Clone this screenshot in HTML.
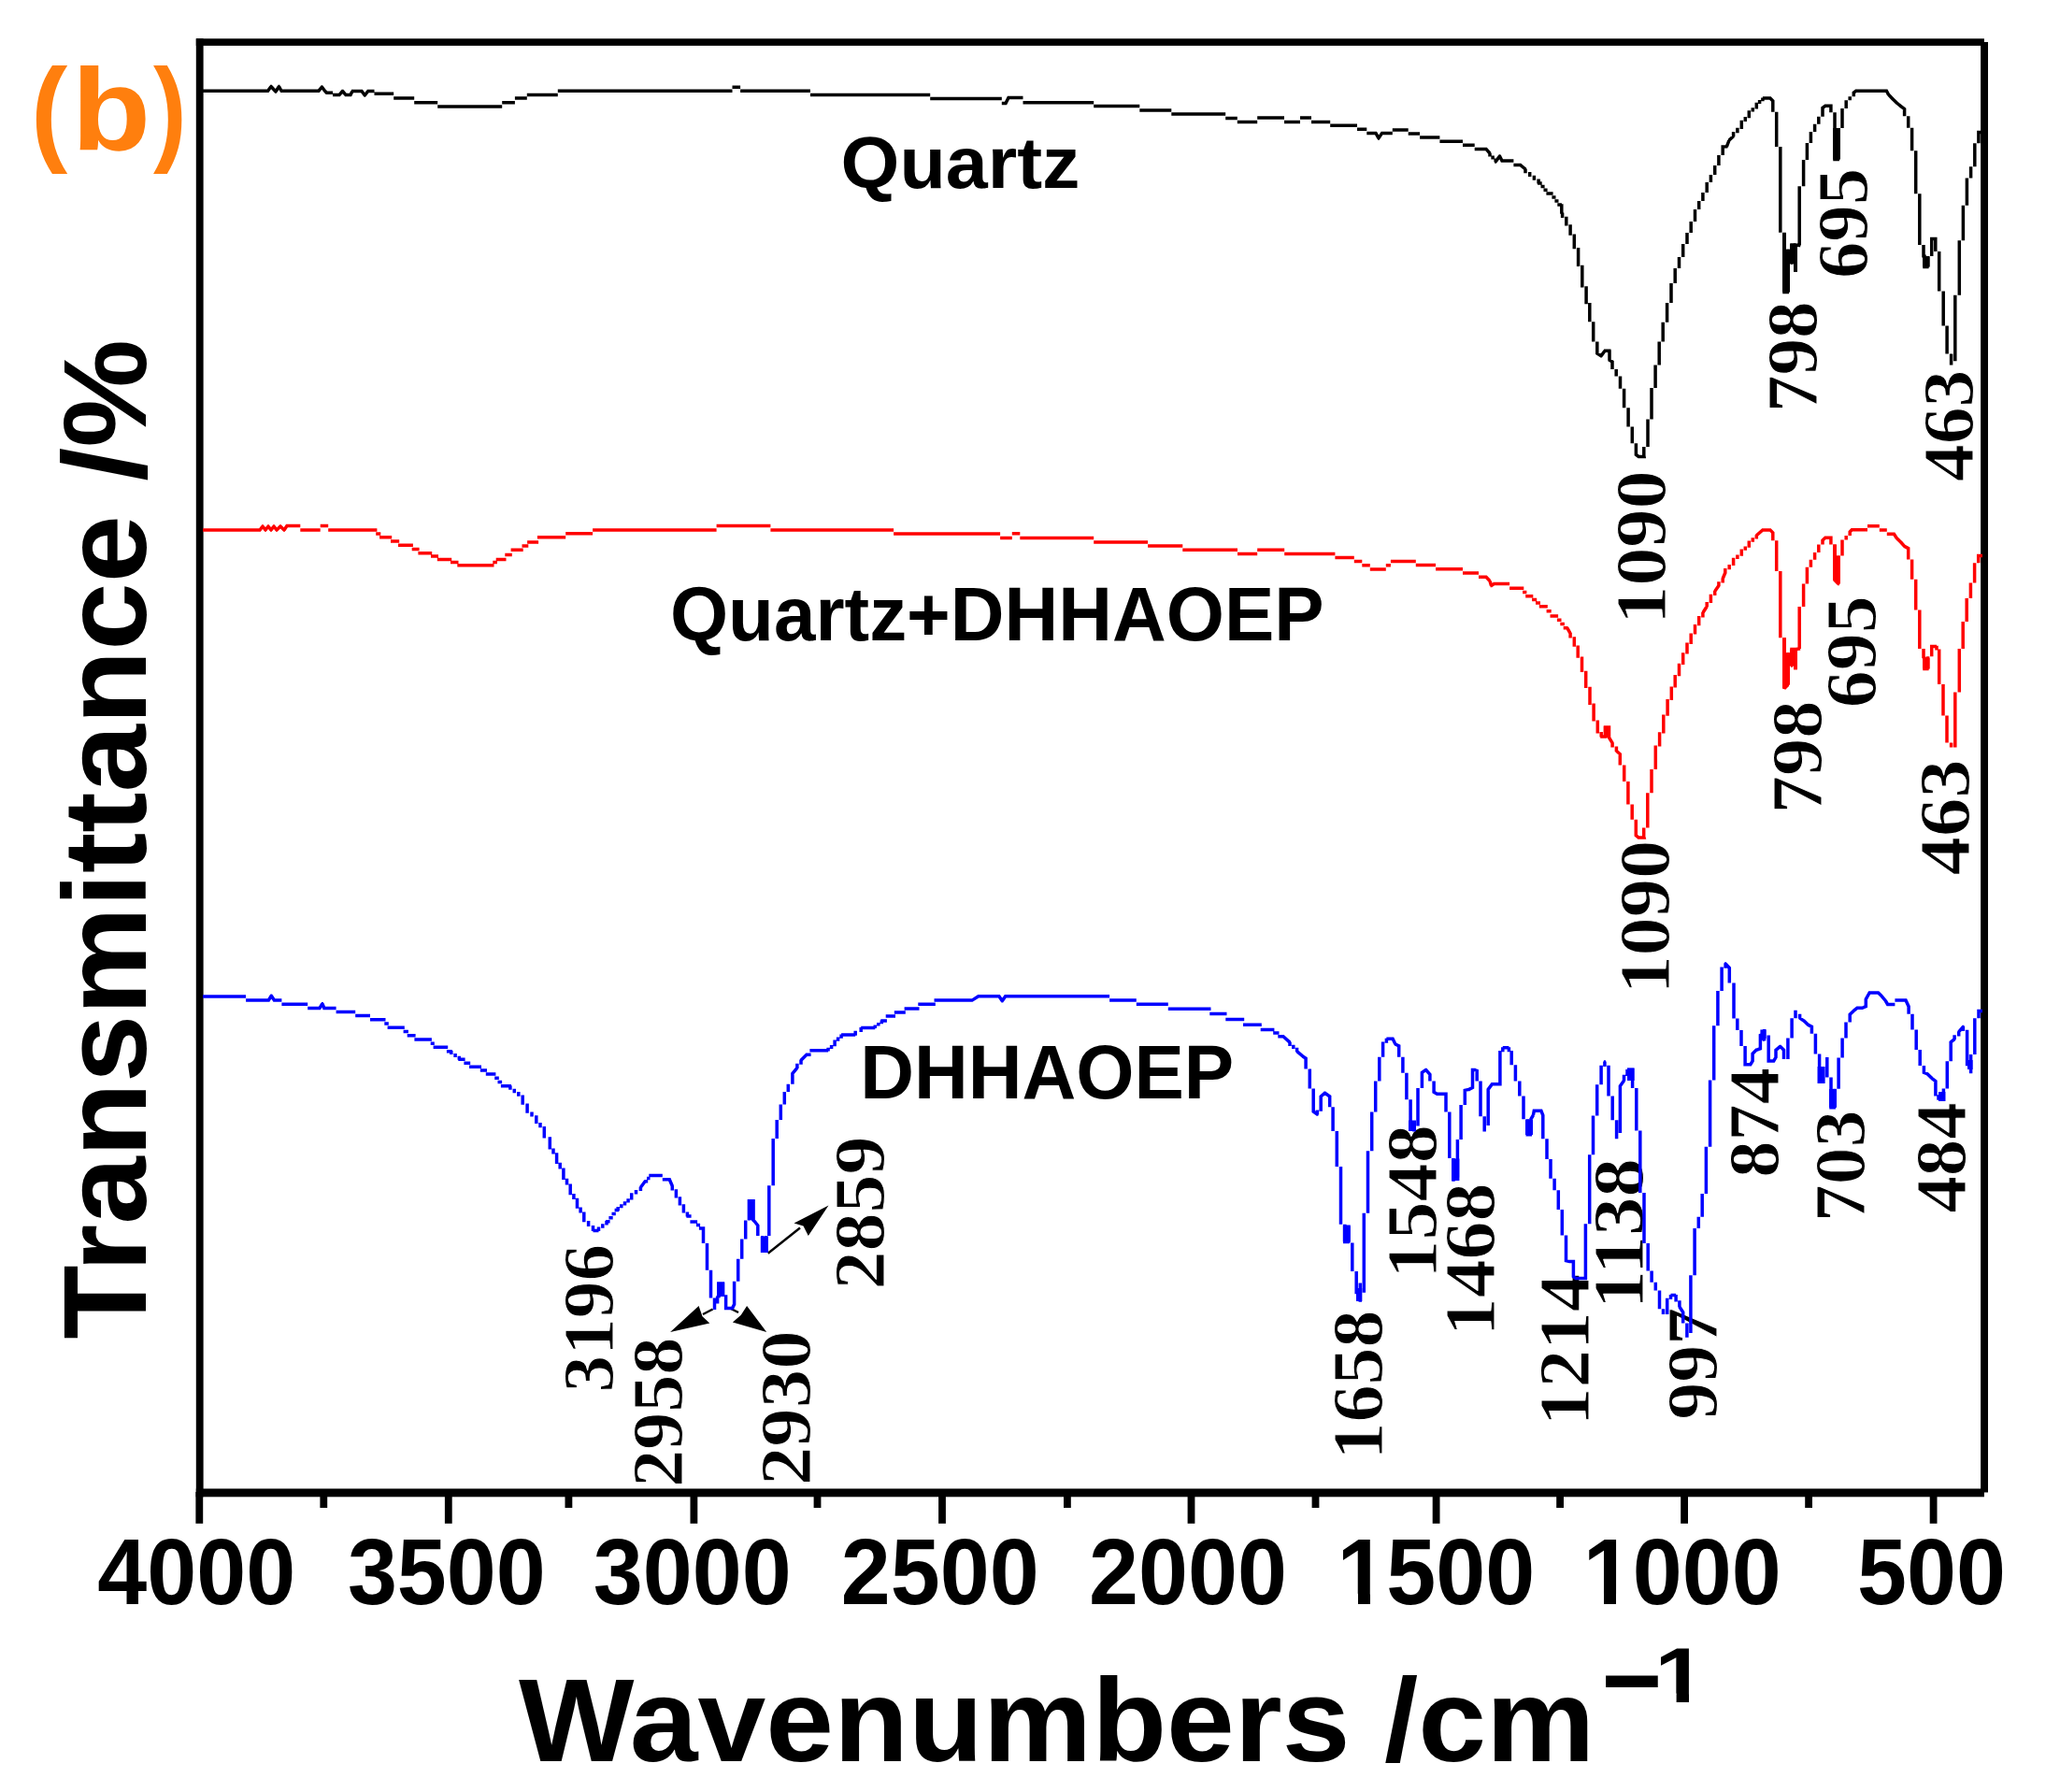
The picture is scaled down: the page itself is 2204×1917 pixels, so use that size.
<!DOCTYPE html><html><head><meta charset="utf-8"><title>FTIR spectra</title>
<style>html,body{margin:0;padding:0;background:#fff}svg{display:block}text{white-space:pre}</style></head><body>
<svg width="2204" height="1917" viewBox="0 0 2204 1917">
<rect width="2204" height="1917" fill="#fff"/>
<g fill="#000">
<rect x="209.8" y="41.3" width="7.8" height="1560"/>
<rect x="209.8" y="41.3" width="1913.1" height="7.6"/>
<rect x="2119.1" y="45" width="7.9" height="1551.5"/>
<rect x="209.8" y="1592.5" width="1913.1" height="8.8"/>
<rect x="209.4" y="1596" width="7.8" height="33.8"/>
<rect x="475.9" y="1596" width="7.8" height="33.8"/>
<rect x="738.5" y="1596" width="7.8" height="33.8"/>
<rect x="1004.1" y="1596" width="7.8" height="33.8"/>
<rect x="1270.6" y="1596" width="7.8" height="33.8"/>
<rect x="1532.7" y="1596" width="7.8" height="33.8"/>
<rect x="1798.2" y="1596" width="7.8" height="33.8"/>
<rect x="2064.7" y="1596" width="7.8" height="33.8"/>
<rect x="342.4" y="1596" width="7.8" height="17"/>
<rect x="604.5" y="1596" width="7.8" height="17"/>
<rect x="870.6" y="1596" width="7.8" height="17"/>
<rect x="1138.0" y="1596" width="7.8" height="17"/>
<rect x="1403.6" y="1596" width="7.8" height="17"/>
<rect x="1665.2" y="1596" width="7.8" height="17"/>
<rect x="1931.2" y="1596" width="7.8" height="17"/>
</g>
<g stroke="#000" stroke-width="2.4" fill="#000">
<line x1="821.7" y1="1340.8" x2="856" y2="1313.5"/>
<polygon stroke="none" points="886.5,1289.5 849.5,1308.5 859.5,1311.5 864.8,1322"/>
<line x1="762.6" y1="1400.5" x2="752" y2="1406"/>
<polygon stroke="none" points="717.1,1425 747.6,1396.9 751.5,1408.2 759.3,1415.6"/>
<line x1="780" y1="1399" x2="790" y2="1404"/>
<polygon stroke="none" points="820.2,1425 783.9,1414.4 792.8,1406.8 799.1,1396.9"/>
</g>
<g font-family='"Liberation Serif", "Times New Roman", serif' font-weight="bold" fill="#000" stroke="#fff" stroke-width="1.0" stroke-linejoin="round">
<text transform="translate(1781.95 668.10) rotate(-90) scale(1.0852 1.0200)" font-size="76">1090</text>
<text transform="translate(1944.40 441.11) rotate(-90) scale(1.0425 1.0200)" font-size="76">798</text>
<text transform="translate(1998.35 298.11) rotate(-90) scale(1.0380 1.0200)" font-size="76">695</text>
<text transform="translate(2111.00 515.09) rotate(-90) scale(1.0459 1.0200)" font-size="76">463</text>
<text transform="translate(1786.40 1063.59) rotate(-90) scale(1.0838 1.0200)" font-size="76">1090</text>
<text transform="translate(1948.60 870.19) rotate(-90) scale(1.0585 1.0200)" font-size="76">798</text>
<text transform="translate(2006.75 757.15) rotate(-90) scale(1.0509 1.0200)" font-size="76">695</text>
<text transform="translate(2107.25 936.54) rotate(-90) scale(1.0900 1.0200)" font-size="76">463</text>
<text transform="translate(655.75 1489.43) rotate(-90) scale(1.0425 1.0200)" font-size="76">3196</text>
<text transform="translate(729.55 1591.02) rotate(-90) scale(1.0559 1.0200)" font-size="76">2958</text>
<text transform="translate(866.95 1589.09) rotate(-90) scale(1.0900 1.0200)" font-size="76">2930</text>
<text transform="translate(945.70 1379.62) rotate(-90) scale(1.0807 1.0200)" font-size="76">2859</text>
<text transform="translate(1479.05 1561.57) rotate(-90) scale(1.0528 1.0200)" font-size="76">1658</text>
<text transform="translate(1536.85 1367.68) rotate(-90) scale(1.0824 1.0200)" font-size="76">1548</text>
<text transform="translate(1599.45 1429.13) rotate(-90) scale(1.0754 1.0200)" font-size="76">1468</text>
<text transform="translate(1699.71 1525.19) rotate(-90) scale(1.0699 1.0200)" font-size="76">1214</text>
<text transform="translate(1757.90 1400.14) rotate(-90) scale(1.0900 1.0200)" font-size="76">1138</text>
<text transform="translate(1836.65 1518.76) rotate(-90) scale(1.0523 1.0200)" font-size="76">997</text>
<text transform="translate(1902.95 1259.80) rotate(-90) scale(1.0330 1.0200)" font-size="76">874</text>
<text transform="translate(1994.65 1306.94) rotate(-90) scale(1.0472 1.0200)" font-size="76">703</text>
<text transform="translate(2102.60 1297.57) rotate(-90) scale(1.0373 1.0200)" font-size="76">484</text>
</g>
<path d="M217 97.2L286.6 97.2 L290 92.5 M289 92.5L291 92.5 M290 92.5L295 98 M294 98L296 98 M295 98L298.5 92.5 M297.5 92.5L299.5 92.5 M298.5 92.5L301 97.2 M300 97.2L302 97.2 M301 97.2L302 97.2 L341 97.2 L344.4 93 M343.4 93L345.4 93 M344.4 93L347.5 97.2 M346.5 97.2L348.5 97.2 M347.5 97.2L349.5 99.3 L356.1 99.3 M356.1 101.6L363 101.6 L366.5 97.5 M365.5 97.5L367.5 97.5 M366.5 97.5L370 101.6 M369 101.6L371 101.6 M370 101.6L371 101.6 L375 101.6 L377 97.5 M376 97.5L378 97.5 M377 97.5L378 97.5 L387 97.5 L390.3 102 M389.3 102L391.3 102 M390.3 102L393.7 97.5 M392.7 97.5L394.7 97.5 M393.7 97.5L394 97.5 L400.5 97.5 M400.5 100.3L421.2 100.3 M421.2 105L443.2 105 M443.2 109.8L468.2 109.8 M468.2 113.9L537.2 113.9 M537.2 109.8L550.9 109.8 M550.9 105L563.8 105 M563.8 101.6L596.8 101.6 M596.8 97.2L783.5 97.2 M783.5 93.2L792.1 93.2 M792.1 97.2L866.9 97.2 M866.9 101.6L995.2 101.6 M995.2 105.4L1071.8 105.4 M1071.8 110.5L1076 110.5 L1079 104.4 L1094.5 104.4 M1094.5 109.8L1170.2 109.8 M1170.2 113.5L1219.3 113.5 M1219.3 118L1253.3 118 M1253.3 122L1311.2 122 M1311.2 126.5L1323.8 126.5 M1323.8 130.5L1345.2 130.5 M1345.2 126L1374 126 M1374 130.5L1391 130.5 M1391 126L1403 126 M1403 130.5L1423.2 130.5 M1423.2 134.3L1452 134.3 M1452 138.3L1462.3 138.3 M1462.3 142.4L1472 142.4 L1475 147.9 M1474 147.9L1476 147.9 M1475 147.9L1478.6 142.4 L1489.8 142.4 M1489.8 139L1506.7 139 M1506.7 142.9L1519.1 142.9 M1519.1 147L1540.4 147 M1540.4 151.2L1565 151.2 M1565 155.3L1577.7 155.3 M1577.7 159.4L1590 159.4 L1594 164 M1593 164L1595 164 M1594 163.4L1594 167.6 M1597.1 166.4L1597.1 170.6 M1600.2 169.4L1600.2 173.6 M1599.2 173L1601.2 173 M1600.2 173L1604.5 167 M1603.5 167L1605.5 167 M1604.5 167L1607 172.1 L1619.4 172.1 M1619.4 176.4L1626.6 176.4 L1632 181 M1631 181L1633 181 M1632 180.4L1632 185.3 M1636.7 184.1L1636.7 189 M1641.4 187.8L1641.4 192.8 M1646.1 191.6L1646.1 196.5 M1645.1 195.9L1647.1 195.9 M1645.5 195.9L1649.7 195.9 M1648.5 199.6L1652.6 199.6 M1651.5 203.3L1655.6 203.3 M1654.4 207L1658.6 207 M1657 207L1659 207 M1657.4 207L1661.6 207 M1660.4 211L1664.5 211 M1663.4 214.9L1667.5 214.9 M1666.3 218.9L1670.5 218.9 M1668.9 218.9L1670.9 218.9 M1670.8 218.3L1670.8 228.8 M1670.6 228.2L1672.6 228.2 M1671.6 227.6L1671.6 233 M1675.8 231.8L1675.8 237.3 M1674.8 236.7L1676.8 236.7 M1675.8 236.1L1675.8 241.5 M1680.1 240.3L1680.1 245.8 M1679.1 245.2L1681.1 245.2 M1680.1 244.6L1680.1 251.8 M1684.3 250.6L1684.3 257.7 M1683.3 257.1L1685.3 257.1 M1684.3 256.5L1684.3 266.2 M1688.6 265L1688.6 274.7 M1687.6 274.1L1689.6 274.1 M1688.6 273.5L1688.6 284.9 M1692.8 283.7L1692.8 295.1 M1691.8 294.5L1693.8 294.5 M1692.8 293.9L1692.8 307.4 M1697.1 306.2L1697.1 319.7 M1696.1 319.1L1698.1 319.1 M1697.1 318.5L1697.1 325.2 M1700.8 323.9L1700.8 330.6 M1700.8 330L1700.8 344.2 M1704.7 344.2L1704.7 365.4 M1708.8 365.4L1708.8 378 L1713.1 380.8 M1712.1 380.8L1714.1 380.8 M1713.1 380.8L1717 375.2 M1716 375.2L1718 375.2 M1717 375.2L1722.5 375.2 M1721.5 375.2L1723.5 375.2 M1722 374.6L1722 385.3 M1720.4 384.7L1722.4 384.7 M1721.4 384.7L1725 387 L1725 395 M1729.2 395L1729.2 402.5 M1733.5 402.5L1733.5 415.7 M1737.6 415.7L1737.6 436.3 M1742.1 436.3L1742.1 456.5 M1746.3 456.5L1746.3 474.2 M1750.4 474.2L1750.4 486.3 L1753.2 488.5 L1759 488.5 L1758.8 487.4 L1758.8 478.1 M1763 478.1L1763 448.6 M1767 448.6L1767 415.1 M1771.1 415.1L1771.1 390.6 M1775.2 390.6L1775.2 365.4 M1779.2 365.4L1779.2 344.8 M1783.6 344.8L1783.6 324 M1788 324L1788 303 M1792.2 303L1792.2 287 M1796.5 287L1796.5 275 M1800.7 275L1800.7 261 M1805 261L1805 249 M1809.2 249L1809.2 237 M1813.5 237L1813.5 224 M1817.7 224L1817.7 215 M1821.9 215L1821.9 206 M1826.2 206L1826.2 195 M1830.4 195L1830.4 187 M1834.7 187L1834.7 177 M1838.9 177L1838.9 166 M1843.2 166L1843.2 157 L1847.4 156.8 M1846.4 156.8L1848.4 156.8 M1847.4 156.8L1850 150 M1849 150L1851 150 M1850 150L1854.6 145.7 M1853.6 145.7L1855.6 145.7 M1854.6 146.3L1854.6 141 M1858.9 142.2L1858.9 136.8 M1863.3 138L1863.3 132.7 M1862.3 133.3L1864.3 133.3 M1863.3 133.9L1863.3 128.8 M1867.3 130L1867.3 125 M1871.3 126.2L1871.3 121.1 M1870.3 121.7L1872.3 121.7 M1871.3 122.3L1871.3 118.2 M1875.3 119.4L1875.3 115.3 M1879.3 116.5L1879.3 112.4 M1878.3 113L1880.3 113 M1879.3 113.6L1879.3 109.7 M1882.6 110.9L1882.6 107.1 M1885.9 108.3L1885.9 104.4 M1885.9 105L1893.9 105 L1896.8 107.9 L1896.8 119.8 M1900.7 119.8L1900.7 157 M1904.8 157L1904.8 248.8 M1909 248.8L1909 312.6 L1913 312.6 M1912 312.6L1914 312.6 M1913 312.6L1913 312.6 L1913 267 M1913 266.4L1913 274.6 M1917 273.4L1917 281.6 M1916 281L1918 281 M1917 281L1917 281 L1917 262 L1921 262 M1920 262L1922 262 M1921 262L1921 262 L1921 290.8 L1921 290.8 L1921 262 L1925.2 262.4 M1924.2 262.4L1926.2 262.4 M1925.2 262.4L1925.2 262.4 L1925.2 199.2 M1929.6 199.2L1929.6 170.9 M1933.4 170.9L1933.4 152.9 M1937.4 152.9L1937.4 140.9 M1941.6 140.9L1941.6 132.8 M1945.8 132.8L1945.8 124.8 M1950 124.8L1950 115.4 L1952.9 113.3 L1958.9 113.3 L1958.9 113.3 L1958.9 120.2 M1963 120.2L1963 170.6 L1966.9 170.6 M1965.9 170.6L1967.9 170.6 M1966.9 170.6L1966.9 170.6 L1966.9 136.9 M1971 136.9L1971 116.1 M1975.2 116.1L1975.2 107.2 M1979.2 107.2L1979.2 103.2 M1983.3 103.2L1983.3 99.2 L1985.8 97.2 L2018.4 97.2 L2020.6 101.3 M2019.6 101.3L2021.6 101.3 M2020.6 101.3L2024.9 105.7 M2023.9 105.7L2025.9 105.7 M2024.9 105.7L2029.3 110 M2028.3 110L2030.3 110 M2029.3 110L2033.7 113.7 M2032.7 113.7L2034.7 113.7 M2033.7 113.7L2037.6 116.6 L2037.6 124.2 M2041.7 124.2L2041.7 136.7 M2045.6 136.7L2045.6 161.3 M2049.7 161.3L2049.7 207.2 M2053.8 207.2L2053.8 261.9 M2058 261.9L2058 273.9 L2059 274 L2059 285.5 L2062.6 285.5 M2061.6 285.5L2063.6 285.5 M2062.6 285.5L2062.6 285.5 L2062.6 273.9 M2066.7 273.9L2066.7 257.9 L2066.7 255.5 L2070.8 255.5 L2070.8 255.5 L2070.8 269.1 M2074.7 269.1L2074.7 311.6 M2079.2 311.6L2079.2 348.4 M2083.1 348.4L2083.1 378.6 M2087.6 378.6L2087.6 389.9 M2087.6 390.5L2087.6 385.1 M2091.8 386.3L2091.8 380.9 M2091.8 381.5L2091.8 315.8 M2096.3 315.8L2096.3 257.3 M2100.4 257.3L2100.4 219.7 M2104.4 219.7L2104.4 190.5 M2108.6 190.5L2108.6 178.2 M2112.8 178.2L2112.8 153.3 M2116.9 153.3L2116.9 141.4 L2120 141.4 M2119 141.4L2121 141.4" fill="none" stroke="#000" stroke-width="3.5" stroke-linejoin="miter" stroke-miterlimit="2" stroke-linecap="butt"/>
<path d="M1907 267H1915V312.6H1907Z M1907 249H1911V267H1907Z M1915 261.2H1923V282.4H1915Z M1919 282.4H1923V290.8H1919Z M1961 137H1968.8V170.6H1961Z M2057 274.6H2064.6V285.5H2057Z" fill="#000"/>
<path d="M217 567L278 567 L281 563 M280 563L282 563 M281 563L284 567 M283 567L285 567 M284 567L287 563 M286 563L288 563 M287 563L290 567 M289 567L291 567 M290 567L293 563 M292 563L294 563 M293 563L296 567 M295 567L297 567 M296 567L300 563 M299 563L301 563 M300 563L304 567 M303 567L305 567 M304 567L307 562.5 L321.3 562.5 M321.3 567L342.7 567 M342.7 562.5L351.2 562.5 M351.2 567L398.8 567 M398.2 567L403.4 567 M402.2 570.9L407.3 570.9 M406.1 574.8L411.3 574.8 M409.7 574.8L411.7 574.8 M410.1 574.8L419.2 574.8 M418 579L427.2 579 M426 583.2L435.1 583.2 M433.5 583.2L435.5 583.2 M433.9 583.2L441.9 583.2 M440.7 587.5L448.6 587.5 M447.4 591.7L455.4 591.7 M453.8 591.7L455.8 591.7 M454.2 591.7L462.2 591.7 M461 595.1L469 595.1 M467.8 598.5L475.8 598.5 M474.2 598.5L476.2 598.5 M474.6 598.5L483.2 598.5 M482 601.6L490.5 601.6 M489.3 604.7L497.9 604.7 M497.3 604.7L524.5 604.7 M523.9 604.7L528.5 604.7 M527.3 601.6L531.9 601.6 M530.7 598.5L535.3 598.5 M533.7 598.5L535.7 598.5 M534.1 598.5L541.5 598.5 M540.3 593.4L547.8 593.4 M546.6 588.3L554 588.3 M552.4 588.3L554.4 588.3 M552.8 588.3L559.7 588.3 M558.5 584.1L565.3 584.1 M564.1 579.9L571 579.9 M569.4 579.9L571.4 579.9 M569.8 579.9L576.1 579.9 M574.9 574.8L581.2 574.8 M580.6 574.8L605.2 574.8 M605.2 570.7L634.1 570.7 M634.1 567L766.6 567 M766.6 562.5L824.4 562.5 M824.4 567L956.1 567 M956.1 571L1070.1 571 M1070.1 575.4L1082.8 575.4 M1082.8 570.7L1091.3 570.7 M1091.3 575.4L1170.2 575.4 M1170.2 579.9L1228.1 579.9 M1228.1 583.9L1265.3 583.9 M1265.3 588.3L1324 588.3 M1324 592.4L1345.2 592.4 M1345.2 588.3L1374.2 588.3 M1374.2 592.4L1428.4 592.4 M1428.4 596.5L1448.8 596.5 M1448.8 600.6L1457.3 600.6 M1457.3 604.7L1465.8 604.7 M1465.8 609.1L1482.8 609.1 M1482.8 604.7L1487.9 604.7 M1487.9 600.5L1514.8 600.5 M1514.8 604.6L1536.1 604.6 M1536.1 608.8L1565 608.8 M1565 613.1L1582 613.1 M1582 617.3L1590 617.3 L1594 621.5 M1593 621.5L1595 621.5 M1594 621.5L1595.5 626.6 M1594.5 626.6L1596.5 626.6 M1595.5 626.6L1598.5 624.6 L1615.1 624.6 M1615.1 629.2L1626.6 629.2 M1626 629.2L1630.3 629.2 M1629.1 633.5L1633.4 633.5 M1632.2 637.7L1636.5 637.7 M1634.9 637.7L1636.9 637.7 M1635.3 637.7L1640.3 637.7 M1639.1 641.4L1644.2 641.4 M1643 645L1648 645 M1646.8 648.7L1651.8 648.7 M1650.2 648.7L1652.2 648.7 M1650.6 648.7L1655.8 648.7 M1654.6 653.8L1659.7 653.8 M1658.5 658.9L1663.7 658.9 M1662.1 658.9L1664.1 658.9 M1662.5 658.9L1667.1 658.9 M1665.9 663.2L1670.5 663.2 M1669.3 667.4L1673.9 667.4 M1672.7 671.7L1677.3 671.7 M1675.7 671.7L1677.7 671.7 M1676.7 671.7L1680.1 677.6 M1679.1 677.6L1681.1 677.6 M1680.1 677L1680.1 682.5 M1684.3 681.2L1684.3 686.7 M1683.3 686.1L1685.3 686.1 M1684.3 685.5L1684.3 691.8 M1688.2 690.6L1688.2 696.9 M1687.2 696.3L1689.2 696.3 M1688.2 695.7L1688.2 703.7 M1692.5 702.5L1692.5 710.5 M1691.5 709.9L1693.5 709.9 M1692.5 709.3L1692.5 719 M1696.7 717.8L1696.7 727.5 M1695.7 726.9L1697.7 726.9 M1696.7 726.3L1696.7 736 M1701 734.8L1701 744.5 M1700 743.9L1702 743.9 M1701 743.3L1701 753.9 M1705.1 752.6L1705.1 763.2 M1704.1 762.6L1706.1 762.6 M1705.1 762L1705.1 771.6 M1709.3 770.4L1709.3 780.1 M1708.3 779.5L1710.3 779.5 M1709.3 778.9L1709.3 784.4 M1713.2 783.1L1713.2 788.6 M1712.2 788L1714.2 788 M1713.2 788L1716 788 M1715 788L1717 788 M1716 788L1717.5 788 L1717.5 778 L1717.5 778 L1721.5 778 L1721.5 778 L1721.5 789 L1725.1 794.8 M1724.1 794.8L1726.1 794.8 M1725.1 794.2L1725.1 799.6 M1729.4 798.4L1729.4 803.9 M1728.4 803.3L1730.4 803.3 M1729.4 803.3L1733.3 806.7 L1733.3 818.5 M1737.7 818.5L1737.7 836 M1741.9 836L1741.9 860.5 M1746.2 860.5L1746.2 876.7 M1750.3 876.7L1750.3 893.7 L1753.1 896 L1759 896 L1758.7 894.9 L1758.7 885.6 M1762.8 885.6L1762.8 848.2 M1767 848.2L1767 823.1 M1771.3 823.1L1771.3 802.8 M1771.3 803.4L1771.3 797.4 M1775.6 798.6L1775.6 792.5 M1774.6 793.1L1776.6 793.1 M1775.6 793.7L1775.6 783.2 M1779.8 784.4L1779.8 773.9 M1778.8 774.5L1780.8 774.5 M1779.8 775.1L1779.8 764.5 M1784.1 765.8L1784.1 755.2 M1783.1 755.8L1785.1 755.8 M1784.1 756.4L1784.1 747.9 M1788.3 749.1L1788.3 740.7 M1787.3 741.3L1789.3 741.3 M1788.3 741.9L1788.3 734.4 M1792.2 735.6L1792.2 728 M1791.2 728.6L1793.2 728.6 M1792.2 729.2L1792.2 722.1 M1796.5 723.3L1796.5 716.1 M1795.5 716.7L1797.5 716.7 M1796.5 717.3L1796.5 709.7 M1800.7 710.9L1800.7 703.3 M1799.7 703.9L1801.7 703.9 M1800.7 704.5L1800.7 698.2 M1805 699.4L1805 693.2 M1804 693.8L1806 693.8 M1805 694.4L1805 687.6 M1809.2 688.9L1809.2 682.1 M1808.2 682.7L1810.2 682.7 M1809.2 683.3L1809.2 677.4 M1813.5 678.6L1813.5 672.8 M1812.5 673.4L1814.5 673.4 M1813.5 674L1813.5 668.1 M1817.7 669.3L1817.7 663.4 M1816.7 664L1818.7 664 M1817.7 664.6L1817.7 659.1 M1821.9 660.4L1821.9 654.9 M1820.9 655.5L1822.9 655.5 M1821.9 655.5L1826.2 648.7 M1825.2 648.7L1827.2 648.7 M1826.2 649.3L1826.2 643.9 M1830.4 645.1L1830.4 639.6 M1829.4 640.2L1831.4 640.2 M1830.4 640.8L1830.4 635.8 M1834.7 637L1834.7 632 M1833.7 632.6L1835.7 632.6 M1834.7 632.6L1838.9 626.6 M1837.9 626.6L1839.9 626.6 M1838.9 627.2L1838.9 622.2 M1843.2 623.4L1843.2 618.4 M1842.2 619L1844.2 619 M1843.2 619L1845.8 612.8 M1844.8 612.8L1846.8 612.8 M1845.8 613.4L1845.8 608.1 M1850.2 609.3L1850.2 603.9 M1854.6 605.1L1854.6 599.8 M1853.6 600.4L1855.6 600.4 M1854.6 601L1854.6 596.7 M1858.9 597.9L1858.9 593.5 M1863.3 594.7L1863.3 590.4 M1862.3 591L1864.3 591 M1863.3 591.6L1863.3 587.5 M1867.3 588.7L1867.3 584.5 M1871.3 585.7L1871.3 581.6 M1870.3 582.2L1872.3 582.2 M1871.3 582.8L1871.3 578.5 M1875.3 579.7L1875.3 575.3 M1879.3 576.5L1879.3 572.2 M1878.3 572.8L1880.3 572.8 M1879.3 572.8L1885.9 566.9 L1893.9 566.9 L1896.8 569.9 L1896.8 578.2 M1900.7 578.2L1900.7 611 M1904.8 611L1904.8 682.3 M1909 682.3L1909 736.4 L1913 732.5 M1912 732.5L1914 732.5 M1913 732.5L1913 732.5 L1913 698.5 M1913 697.9L1913 705.9 M1917 704.6L1917 712.6 M1916 712L1918 712 M1917 712L1917 712 L1917 694.6 L1921 694.6 M1920 694.6L1922 694.6 M1921 694.6L1921 694.6 L1921 716.3 L1921 716.3 L1921 694.6 L1925.2 694 M1924.2 694L1926.2 694 M1925.2 694L1925.2 694 L1925.2 648.9 M1929.6 648.9L1929.6 624.4 M1933.4 624.4L1933.4 606.8 M1937.4 606.8L1937.4 598.8 M1941.6 598.8L1941.6 590.9 M1945.8 590.9L1945.8 582.4 M1950 582.4L1950 577.9 L1952.9 575.2 L1958.9 575.2 L1958.9 575.2 L1958.9 582.4 M1963 582.4L1963 620.6 L1966.9 624.5 M1965.9 624.5L1967.9 624.5 M1966.9 624.5L1966.9 624.5 L1966.9 594.6 M1971 594.6L1971 577.5 M1975.2 577.5L1975.2 572.9 M1979.2 572.9L1979.2 569 L1981.3 566.8 L1998 566.8 M1998 562.8L2010.8 562.8 M2010.8 566.9L2018.8 566.9 M2018.8 571.3L2026.4 571.3 L2029.3 575.7 M2028.3 575.7L2030.3 575.7 M2029.3 575.7L2033.7 580 M2032.7 580L2034.7 580 M2033.7 580L2037.6 584.4 M2036.6 584.4L2038.6 584.4 M2037.6 584.4L2041.7 586.6 L2041.7 598.6 M2045.6 598.6L2045.6 619.8 M2049.7 619.8L2049.7 652.5 M2053.8 652.5L2053.8 694 M2058 694L2058 703.1 L2059 703.8 L2059 715.5 L2062.6 715.5 M2061.6 715.5L2063.6 715.5 M2062.6 715.5L2062.6 715.5 L2062.6 702.3 M2066.7 702.3L2066.7 691.4 L2066.7 691.4 L2072 691.4 M2072 690.8L2072 695.6 M2074.7 694.4L2074.7 699.3 M2074.7 698.7L2074.7 731.9 M2079 731.9L2079 765.4 M2083 765.4L2083 794.5 M2087.6 794.5L2087.6 799.6 M2091.8 799.6L2091.8 740.6 M2096.3 740.6L2096.3 694 M2100.2 694L2100.2 664.9 M2104.2 664.9L2104.2 640.1 M2108.4 640.1L2108.4 623.4 M2112.6 623.4L2112.6 602.2 M2116.7 602.2L2116.7 594.6 L2120 594.6 M2119 594.6L2121 594.6" fill="none" stroke="#f00" stroke-width="3.5" stroke-linejoin="miter" stroke-miterlimit="2" stroke-linecap="butt"/>
<path d="M1907 682.3H1911V736.4H1907Z M1911 698.5H1915V732.5H1911Z M1915 694.6H1923V712.4H1915Z M1919 712.4H1923V716.3H1919Z M1961 582.4H1964.9V620.6H1961Z M1964.9 594.6H1968.8V624.5H1964.9Z M2057 703.8H2064.6V715.5H2057Z M1715.8 777H1722.6V789H1715.8Z" fill="#f00"/>
<path d="M217 1065.9L263.1 1065.9 M263.1 1070L287.4 1070 L290.3 1065.2 M289.3 1065.2L291.3 1065.2 M290.3 1065.2L293.4 1070 L301.4 1070 M301.4 1074.2L329.2 1074.2 M329.2 1078.5L342 1078.5 L344.9 1073.7 M343.9 1073.7L345.9 1073.7 M344.9 1073.7L346.8 1078.5 L359.6 1078.5 M359.6 1082.4L380.2 1082.4 M380.2 1086.6L396 1086.6 M396 1090.7L408.7 1090.7 M408.1 1090.7L412.5 1090.7 M411.3 1095L415.8 1095 M414.6 1099.2L419 1099.2 M417.4 1099.2L419.4 1099.2 M418.4 1099.2L428.2 1099.2 M427.2 1099.2L429.2 1099.2 M427.6 1099.2L432.8 1099.2 M431.6 1103.5L436.9 1103.5 M435.7 1107.7L440.9 1107.7 M439.3 1107.7L441.3 1107.7 M439.7 1107.7L444.6 1107.7 M443.4 1112L448.2 1112 M447.6 1112L458.5 1112 M457.9 1112L461.9 1112 M460.7 1116.2L464.8 1116.2 M463.6 1120.3L467.6 1120.3 M466 1120.3L468 1120.3 M467 1120.3L474.3 1120.3 M473.3 1120.3L475.3 1120.3 M473.7 1120.3L479.2 1120.3 M477.9 1124.7L483.4 1124.7 M481.8 1124.7L483.8 1124.7 M482.8 1124.1L482.8 1128.1 M487.1 1126.9L487.1 1131 M491.3 1129.8L491.3 1133.8 M490.3 1133.2L492.3 1133.2 M490.7 1133.2L497.6 1133.2 M496.4 1137.2L503.2 1137.2 M502 1141.2L508.9 1141.2 M507.3 1141.2L509.3 1141.2 M507.7 1141.2L515 1141.2 M513.8 1145.1L521 1145.1 M519.8 1148.9L527.1 1148.9 M525.5 1148.9L527.5 1148.9 M525.9 1148.9L530.4 1148.9 M529.2 1153.2L533.8 1153.2 M532.5 1157.5L537.1 1157.5 M535.9 1161.8L540.4 1161.8 M538.8 1161.8L540.8 1161.8 M539.8 1161.8L545.9 1161.8 M544.9 1161.8L546.9 1161.8 M545.9 1161.2L545.9 1165.8 M550.3 1164.7L550.3 1169.3 M554.8 1168.1L554.8 1172.7 M559.2 1171.5L559.2 1176.2 M558.2 1175.6L560.2 1175.6 M559.2 1175L559.2 1181.7 M564.1 1180.5L564.1 1187.2 M563.1 1186.6L565.1 1186.6 M564.1 1186L564.1 1190.8 M569 1189.6L569 1194.5 M573.8 1193.3L573.8 1198.1 M572.8 1197.5L574.8 1197.5 M573.8 1196.9L573.8 1202.1 M578 1200.9L578 1206.2 M582.3 1205L582.3 1210.2 M581.3 1209.6L583.3 1209.6 M582.3 1209L582.3 1217.5 M588.3 1216.3L588.3 1224.8 M587.3 1224.2L589.3 1224.2 M588.3 1223.6L588.3 1229.6 M592 1228.4L592 1234.5 M595.6 1233.3L595.6 1239.3 M594.6 1238.7L596.6 1238.7 M595.6 1238.1L595.6 1245 M599.2 1243.8L599.2 1250.6 M602.9 1249.4L602.9 1256.3 M601.9 1255.7L603.9 1255.7 M602.9 1255.1L602.9 1262 M606.5 1260.8L606.5 1267.6 M610.2 1266.4L610.2 1273.3 M609.2 1272.7L611.2 1272.7 M610.2 1272.1L610.2 1278.2 M613.9 1277L613.9 1283 M617.5 1281.8L617.5 1287.9 M616.5 1287.3L618.5 1287.3 M617.5 1286.7L617.5 1292.7 M621.1 1291.5L621.1 1297.6 M624.8 1296.4L624.8 1302.4 M623.8 1301.8L625.8 1301.8 M624.8 1301.2L624.8 1307.3 M629.6 1306.1L629.6 1312.1 M634.5 1310.9L634.5 1317 M634.5 1316.4L640.5 1316.4 M640.5 1317L640.5 1312.6 M644.8 1313.8L644.8 1309.3 M649 1310.5L649 1306.1 M648 1306.7L650 1306.7 M648.4 1306.7L652.6 1306.7 M651.4 1302.7L655.7 1302.7 M654.5 1298.6L658.8 1298.6 M657.6 1294.6L661.8 1294.6 M660.2 1294.6L662.2 1294.6 M661.2 1295.2L661.2 1291.1 M664.8 1292.3L664.8 1288.2 M668.5 1289.4L668.5 1285.2 M672.1 1286.4L672.1 1282.3 M675.7 1283.5L675.7 1279.4 M674.7 1280L676.7 1280 M675.7 1280.6L675.7 1276.2 M680.5 1277.4L680.5 1272.9 M685.4 1274.1L685.4 1269.7 M684.4 1270.3L686.4 1270.3 M685.4 1270.3L690.2 1263.8 M689.2 1263.8L691.2 1263.8 M689.6 1263.8L693.2 1263.8 M692 1260.6L695.5 1260.6 M694.3 1257.4L697.9 1257.4 M697.3 1257.4L708.8 1257.4 M708.8 1261.8L716.3 1261.8 L719.3 1268.8 M718.3 1268.8L720.3 1268.8 M719.3 1268.2L719.3 1273.4 M723.4 1272.2L723.4 1277.5 M722.4 1276.9L724.4 1276.9 M723.4 1276.3L723.4 1281.5 M727.4 1280.3L727.4 1285.5 M726.4 1284.9L728.4 1284.9 M727.4 1284.3L727.4 1289.5 M731.4 1288.3L731.4 1293.5 M730.4 1292.9L732.4 1292.9 M731.4 1292.3L731.4 1297.5 M735.4 1296.4L735.4 1301.6 M734.4 1301L736.4 1301 M734.8 1301L739.6 1301 M738.4 1307L743.1 1307 M741.5 1307L743.5 1307 M741.9 1307L746.1 1307 M744.9 1310.5L749.1 1310.5 M747.9 1314L752.1 1314 M750.5 1314L752.5 1314 M751.5 1314L752.5 1314 L752.5 1330.1 M756.5 1330.1L756.5 1358.7 M760.5 1358.7L760.5 1388.4 M764.5 1388.4L764.5 1400.4 M764.5 1401L764.5 1393.3 M767.6 1394.5L767.6 1386.8 M766.6 1387.4L768.6 1387.4 M767.6 1387.4L769 1387 L769 1373.3 L769 1373.3 L773.6 1373.3 L773.6 1373.3 L773.6 1385.2 M776.6 1385.2L776.6 1399.4 L777.6 1399.4 L783.6 1399.4 L785.6 1395.4 L785.6 1370.8 M789.7 1370.8L789.7 1346.7 M793.7 1346.7L793.7 1325.6 M797.7 1325.6L797.7 1305.5 M801.7 1305.5L801.7 1284.9 L801.7 1284.9 L805.7 1284.9 L805.7 1284.9 L805.7 1305 L807.7 1307 M806.7 1307L808.7 1307 M807.7 1307L810.8 1311 L810.8 1322 M815.8 1322L815.8 1337 M819.8 1337L819.8 1340 L819.8 1340 L819.8 1322 M822.8 1322L822.8 1268.3 M827.2 1268.3L827.2 1218.1 M831.2 1218.1L831.2 1198 M835.3 1198L835.3 1181.4 M839.3 1181.4L839.3 1167.9 M843.3 1167.9L843.3 1159.8 M847.9 1159.8L847.9 1148.3 L852.9 1142.3 M851.9 1142.3L853.9 1142.3 M852.9 1142.9L852.9 1137.7 M857 1138.8L857 1133.6 M856 1134.2L858 1134.2 M857 1134.2L863 1128.2 M862 1128.2L864 1128.2 M862.4 1128.2L867.6 1128.2 M866.4 1123.8L871.6 1123.8 M871 1123.8L886.1 1123.8 M886.1 1124.4L886.1 1120.7 M889.6 1121.9L889.6 1118.1 M893.1 1119.3L893.1 1115.6 M892.1 1116.2L894.1 1116.2 M893.1 1116.8L893.1 1112.6 M896.6 1113.8L896.6 1109.5 M900.1 1110.7L900.1 1106.5 M900.1 1107.1L915.2 1107.1 M915.2 1107.7L915.2 1102.7 M921.2 1103.9L921.2 1098.9 M921.2 1099.5L936.3 1099.5 M936.3 1100.1L936.3 1096.4 M939.8 1097.6L939.8 1094 M943.3 1095.2L943.3 1091.5 M942.3 1092.1L944.3 1092.1 M942.7 1092.1L948.9 1092.1 M947.7 1087L954 1087 M952.4 1087L954.4 1087 M952.8 1087L958 1087 M956.8 1083L962 1083 M960.4 1083L962.4 1083 M960.8 1083L968.8 1083 M967.6 1079L975.6 1079 M974 1079L976 1079 M974.4 1079L983.5 1079 M982.3 1074.2L991.4 1074.2 M989.8 1074.2L991.8 1074.2 M990.2 1074.2L1000.8 1074.2 M999.5 1070.1L1010.1 1070.1 M1009.5 1070.1L1040 1070.1 L1046.8 1065.7 L1068.9 1065.7 L1072.3 1070.8 M1071.3 1070.8L1073.3 1070.8 M1072.3 1070.8L1075.7 1065.7 L1187.1 1065.7 M1187.1 1070.1L1215.8 1070.1 M1215.8 1074.2L1249.8 1074.2 M1249.8 1079.3L1286.4 1079.3 M1285.8 1079.3L1295.5 1079.3 M1294.3 1084.4L1304 1084.4 M1302.4 1084.4L1304.4 1084.4 M1302.8 1084.4L1312.5 1084.4 M1311.3 1090.5L1321 1090.5 M1319.4 1090.5L1321.4 1090.5 M1319.8 1090.5L1331.2 1090.5 M1330 1096.3L1341.4 1096.3 M1339.8 1096.3L1341.8 1096.3 M1340.2 1096.3L1349.8 1096.3 M1348.7 1101.4L1358.3 1101.4 M1356.7 1101.4L1358.7 1101.4 M1357.1 1101.4L1363.4 1101.4 M1362.2 1105.1L1368.5 1105.1 M1367.3 1108.8L1373.6 1108.8 M1372 1108.8L1374 1108.8 M1373 1108.8L1380 1115.1 M1379 1115.1L1381 1115.1 M1380 1114.5L1380 1118.9 M1383.8 1117.7L1383.8 1122 M1387.6 1120.8L1387.6 1125.2 M1386.6 1124.6L1388.6 1124.6 M1387.6 1124.6L1394.2 1130.3 M1393.2 1130.3L1395.2 1130.3 M1394.2 1130.3L1397.1 1132.2 L1397.1 1143.5 M1401.3 1143.5L1401.3 1164.5 M1405.2 1164.5L1405.2 1189.1 L1409.4 1192 M1408.4 1192L1410.4 1192 M1409.4 1192.6L1409.4 1187.6 M1413.2 1188.8L1413.2 1183.8 M1413.2 1184.4L1413.2 1173 L1417.4 1169.2 M1416.4 1169.2L1418.4 1169.2 M1417.4 1169.2L1422.7 1173 L1422.7 1184.3 M1426.1 1184.3L1426.1 1210 M1430.3 1210L1430.3 1248 M1434.5 1248L1434.5 1309.7 M1438.8 1309.7L1438.8 1328.6 L1442.8 1328.6 M1441.8 1328.6L1443.8 1328.6 M1442.8 1328.6L1442.8 1328.6 L1442.8 1312 L1442.8 1312 L1442.8 1329.5 M1446.8 1329.5L1446.8 1360 M1451.2 1360L1451.2 1383.7 M1451.2 1384.3L1451.2 1377.9 M1455.3 1379L1455.3 1372.6 M1455.3 1373.2L1455.3 1392.2 M1455.3 1392.8L1455.3 1381.7 M1459.3 1382.8L1459.3 1371.7 M1459.3 1372.3L1459.3 1297.8 M1463.5 1297.8L1463.5 1231.3 M1467.7 1231.3L1467.7 1189.6 M1471.7 1189.6L1471.7 1156.4 M1475.8 1156.4L1475.8 1130.8 M1479.6 1130.8L1479.6 1118.9 M1479.6 1119.5L1479.6 1114.5 M1483.4 1115.7L1483.4 1110.7 M1483.4 1111.3L1490.1 1111.3 L1492.9 1117 M1491.9 1117L1493.9 1117 M1492.9 1117L1496.7 1118.9 L1496.7 1130.8 M1500.9 1130.8L1500.9 1147.8 M1504.9 1147.8L1504.9 1176.3 M1509.1 1176.3L1509.1 1201.4 M1512.9 1201.4L1512.9 1210 M1512.9 1210.6L1512.9 1203.2 M1517 1204.4L1517 1197.1 M1517 1197.7L1517 1164 M1521.4 1164L1521.4 1147.4 L1525.6 1144.5 M1524.6 1144.5L1526.6 1144.5 M1525.6 1144.5L1529.9 1149.3 L1529.9 1156.4 M1534.1 1156.4L1534.1 1168.3 L1537.5 1170.2 L1547 1170.2 L1547 1171.1 L1547 1189.6 M1550.8 1189.6L1550.8 1239 M1555 1239L1555 1263.1 M1555 1263.7L1555 1258.2 M1559.4 1259.4L1559.4 1254 M1559.4 1254.6L1559.4 1219 M1563.1 1219L1563.1 1182 M1567.3 1182L1567.3 1166.4 L1571.7 1165.4 M1570.7 1165.4L1572.7 1165.4 M1571.7 1165.4L1575.5 1163.5 L1575.5 1144.5 L1577.8 1144.5 M1576.8 1144.5L1578.8 1144.5 M1577.8 1144.5L1580.2 1145.5 L1580.2 1156.4 M1584 1156.4L1584 1194.3 M1588.2 1194.3L1588.2 1210 M1588.2 1210.6L1588.2 1202.8 M1592.2 1203.9L1592.2 1196.1 M1592.2 1196.7L1592.2 1165.4 L1596.4 1159.7 L1604.9 1159.7 L1604.9 1158.8 L1604.9 1128.4 M1604.9 1129L1604.9 1124 M1607.8 1125.2L1607.8 1120.2 M1607.8 1120.8L1614.4 1120.8 M1614.4 1120.2L1614.4 1125.2 M1617.2 1124L1617.2 1129 M1617.2 1128.4L1617.2 1139.3 M1621.4 1139.3L1621.4 1156.4 M1625.8 1156.4L1625.8 1172.5 M1630 1172.5L1630 1197.2 M1634.3 1197.2L1634.3 1213.8 L1638 1213.8 M1637 1213.8L1639 1213.8 M1638 1213.8L1638 1213.8 L1638 1197 L1640.4 1193 M1639.4 1193L1641.4 1193 M1640.4 1193L1641.3 1188.3 L1648.9 1188.3 L1650.8 1193 L1650.8 1218.2 M1655 1218.2L1655 1240 M1659 1240L1659 1260.8 M1663.1 1260.8L1663.1 1273.2 M1667.3 1273.2L1667.3 1294 M1671.3 1294L1671.3 1321.6 M1675.5 1321.6L1675.5 1348.6 L1679.3 1349.6 L1683.4 1349.6 L1683.4 1350.5 L1683.4 1365.7 L1685.9 1367.6 L1693.5 1367.6 L1696.4 1367.6 L1696.4 1309.2 M1700.7 1309.2L1700.7 1235.2 M1704.5 1235.2L1704.5 1193.5 M1708.7 1193.5L1708.7 1160.2 M1713.1 1160.2L1713.1 1144.6 M1713.1 1145.2L1713.1 1139.8 M1716.9 1140.9L1716.9 1135.5 M1715.9 1136.1L1717.9 1136.1 M1716.9 1135.5L1716.9 1140.9 M1721 1139.8L1721 1145.2 M1721 1144.6L1721 1172.6 M1725.2 1172.6L1725.2 1198.2 M1729.6 1198.2L1729.6 1217.7 M1729.6 1218.3L1729.6 1210.9 M1733.4 1212.1L1733.4 1204.7 M1733.4 1205.3L1733.4 1161.7 L1737.5 1156 M1736.5 1156L1738.5 1156 M1737.5 1156.6L1737.5 1149.7 M1741 1150.9L1741 1144 M1741 1144.6L1746.6 1144.6 L1746.6 1145.5 L1746.6 1164 M1750.8 1164L1750.8 1209.6 M1754.8 1209.6L1754.8 1276 M1759 1276L1759 1330.1 M1763.2 1330.1L1763.2 1359.5 M1767.1 1359.5L1767.1 1371.8 M1771.3 1371.8L1771.3 1380.4 M1775.5 1380.4L1775.5 1400.3 M1779.5 1400.3L1779.5 1406.1 M1783.7 1406.1L1783.7 1393.2 M1783.7 1393.8L1783.7 1388.8 M1787.5 1390L1787.5 1385 M1787.5 1385.6L1793.1 1385.6 M1793.1 1385L1793.1 1392.4 M1796.9 1391.2L1796.9 1398.6 M1795.9 1398L1797.9 1398 M1796.9 1398L1800.7 1403.7 L1800.7 1415.5 M1804.9 1415.5L1804.9 1430.2 M1804.9 1430.8L1804.9 1424.9 M1808.9 1426L1808.9 1420.1 M1808.9 1420.7L1808.9 1364.3 M1813.1 1364.3L1813.1 1314 M1817.3 1314L1817.3 1301.7 M1821.2 1301.7L1821.2 1277 M1825.4 1277L1825.4 1226.7 M1829.6 1226.7L1829.6 1155.5 M1833.7 1155.5L1833.7 1097.3 M1837.9 1097.3L1837.9 1060 M1842.1 1060L1842.1 1039.4 M1842.1 1040L1842.1 1034.6 M1846.1 1035.8L1846.1 1030.3 M1845.1 1030.9L1847.1 1030.9 M1846.1 1030.9L1850.3 1035.5 L1850.3 1051.4 M1855 1051.4L1855 1089.5 M1858.8 1089.5L1858.8 1101.9 M1863 1101.9L1863 1119 M1867.1 1119L1867.1 1138.8 L1867.1 1138.8 L1872.8 1138.8 L1875.1 1135 L1875.1 1127.2 L1879 1123.3 M1878 1123.3L1880 1123.3 M1879 1123.3L1883.4 1121.7 L1883.4 1106.2 L1887.6 1113.2 L1887.6 1101.6 M1887.6 1101L1887.6 1108.8 M1892.2 1107.6L1892.2 1115.4 M1892.2 1114.8L1892.2 1135 L1892.2 1135 L1897.7 1135 L1900 1131.1 L1900 1123.3 L1904.7 1119.4 M1903.7 1119.4L1905.7 1119.4 M1904.7 1119.4L1908.5 1123.3 L1908.5 1133 M1912.9 1133L1912.9 1110.5 M1917.1 1110.5L1917.1 1089.2 M1921 1089.2L1921 1081.4 M1921 1080.8L1921 1085.8 M1925.6 1084.7L1925.6 1089.7 M1924.6 1089.1L1926.6 1089.1 M1925.6 1089.1L1930.3 1092.2 M1929.3 1092.2L1931.3 1092.2 M1930.3 1092.2L1934.2 1096.1 M1933.2 1096.1L1935.2 1096.1 M1934.2 1096.1L1938.4 1098.4 L1938.4 1105.8 M1942.4 1105.8L1942.4 1127.6 M1946.6 1127.6L1946.6 1158.7 M1950.5 1158.7L1950.5 1141.1 M1954.8 1141.1L1954.8 1131.1 L1954.8 1131.1 L1954.8 1152.4 M1959 1152.4L1959 1184.7 L1962.9 1184.7 M1961.9 1184.7L1963.9 1184.7 M1962.9 1184.7L1962.9 1184.7 L1962.9 1164.8 M1967.1 1164.8L1967.1 1131.4 M1971.1 1131.4L1971.1 1110.5 M1975 1110.5L1975 1093.4 M1979.2 1093.4L1979.2 1085.2 L1983.1 1081.4 M1982.1 1081.4L1984.1 1081.4 M1983.1 1081.4L1987 1078.3 L1992.4 1078.3 L1996.3 1076.7 L1996.3 1068.9 L2000.2 1061.9 L2009.5 1061.9 L2013.4 1065.8 M2012.4 1065.8L2014.4 1065.8 M2013.4 1065.8L2017.3 1070.5 M2016.3 1070.5L2018.3 1070.5 M2017.3 1070.5L2019.6 1074.4 L2027.4 1074.4 M2027.4 1070L2039 1070 L2042.1 1076.7 L2042.1 1084.8 M2046 1084.8L2046 1101.5 M2050.2 1101.5L2050.2 1122.9 M2054.2 1122.9L2054.2 1140 M2058.4 1140L2058.4 1147.4 L2062.3 1148.9 M2061.3 1148.9L2063.3 1148.9 M2062.3 1148.9L2067 1153.6 M2066 1153.6L2068 1153.6 M2067 1153.6L2070.9 1156.7 L2070.9 1167.6 M2070.9 1167L2070.9 1172.4 M2074 1171.2L2074 1176.7 M2074 1176.1L2079.4 1176.1 L2079.4 1175.3 L2079.4 1164.5 M2083.3 1164.5L2083.3 1135.3 M2087.2 1135.3L2087.2 1114.8 L2091.1 1111.7 M2090.1 1111.7L2092.1 1111.7 M2091.1 1112.3L2091.1 1107.2 M2095.7 1108.4L2095.7 1103.3 M2094.7 1103.9L2096.7 1103.9 M2095.7 1103.9L2100.4 1098.4 M2099.4 1098.4L2101.4 1098.4 M2100.4 1097.8L2100.4 1102.9 M2104.6 1101.7L2104.6 1106.8 M2104.6 1106.2L2104.6 1139.6 M2104.6 1140.2L2104.6 1133.6 M2108.6 1134.8L2108.6 1128.1 M2108.6 1128.7L2108.6 1148.2 L2108.6 1148.2 L2108.6 1128 M2112.8 1128L2112.8 1089.2 M2117 1089.2L2117 1081.4 L2120 1081.4 M2119 1081.4L2121 1081.4" fill="none" stroke="#00f" stroke-width="3.5" stroke-linejoin="miter" stroke-miterlimit="2" stroke-linecap="butt"/>
<path d="M767 1371.5H775V1387H767Z M799.7 1283H807.7V1305H799.7Z M813.8 1323H821.8V1340H813.8Z M1436.8 1310.6H1444.8V1328.6H1436.8Z M1451 1378H1457.3V1392H1451Z M1507 1198.6H1515V1210H1507Z M1553 1239.4H1561.4V1263H1553Z M1632 1197.7H1640V1213.9H1632Z M1741 1142.6H1748.6V1156H1741Z M1944.6 1141H1952.5V1159H1944.6Z M1957 1165H1965V1184.7H1957Z M2074 1168H2081.4V1178H2074Z M2105 1134H2110.6V1144H2105Z M1883.4 1101.6H1889.6V1111H1883.4Z" fill="#00f"/>
<g font-family='"Liberation Sans", Arial, sans-serif' font-weight="bold" fill="#000">
<text transform="translate(899.59 200.50) scale(1.0361 1.0056)" font-size="78">Quartz</text>
<text transform="translate(716.92 685.20) scale(1.0251 1.0389)" font-size="78">Quartz+DHHAOEP</text>
<text transform="translate(920.17 1175.40) scale(1.0254 1.0444)" font-size="78">DHHAOEP</text>
<text transform="translate(210.30 1716.36) scale(0.9923 1.0353)" font-size="96" text-anchor="middle">4000</text>
<text transform="translate(477.85 1716.36) scale(0.9923 1.0353)" font-size="96" text-anchor="middle">3500</text>
<text transform="translate(740.75 1716.36) scale(0.9923 1.0353)" font-size="96" text-anchor="middle">3000</text>
<text transform="translate(1005.70 1716.36) scale(0.9923 1.0353)" font-size="96" text-anchor="middle">2500</text>
<text transform="translate(1271.00 1716.36) scale(0.9923 1.0353)" font-size="96" text-anchor="middle">2000</text>
<text transform="translate(1536.35 1716.36) scale(0.9923 1.0353)" font-size="96" text-anchor="middle">1500</text>
<text transform="translate(1799.75 1716.36) scale(0.9923 1.0353)" font-size="96" text-anchor="middle">1000</text>
<text transform="translate(2066.40 1716.36) scale(0.9923 1.0353)" font-size="96" text-anchor="middle">500</text>
<text transform="translate(555.00 1883.90) scale(1.0386 1.0000)" font-size="126">Wavenumbers /cm</text><text transform="translate(1713.56 1837.06) scale(1.11 1.145)" font-size="100">−</text><text transform="translate(1770.37 1821.4) scale(0.495 0.421)" font-size="200">1</text>
<g fill="#fff"><rect x="1774" y="1811.6" width="19.6" height="11.4"/><rect x="1807" y="1811.6" width="18" height="11.4"/><rect x="1435" y="1704.9" width="18" height="13"/><rect x="1466" y="1704.9" width="17" height="13"/><rect x="1698" y="1704.9" width="18" height="13"/><rect x="1729" y="1704.9" width="17" height="13"/></g>
<text transform="translate(155.60 1432.73) rotate(-90) scale(1.0322 1.0000)" font-size="126">Transmittance /%</text>
</g>
<g font-family='"Liberation Sans", Arial, sans-serif' font-weight="bold" font-size="125" fill="#ff7f0e">
<text transform="translate(33.1 160) scale(0.943 1)">(</text><text transform="translate(76.5 160) scale(1.11 1)">b</text><text transform="translate(164 160) scale(0.857 1)">)</text>
</g>
</svg></body></html>
